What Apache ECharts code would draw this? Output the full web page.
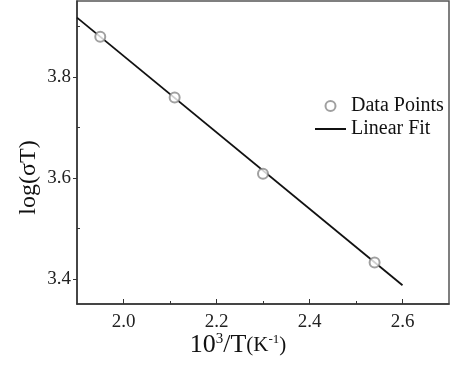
<!DOCTYPE html>
<html>
<head>
<meta charset="utf-8">
<script src="https://cdn.jsdelivr.net/npm/echarts@6/dist/echarts.min.js"></script>
<style>
  html, body { margin: 0; padding: 0; background: #fff; }
  #chart { width: 450px; height: 368px; }
</style>
</head>
<body>
<div id="chart"></div>
<script>
// measured points: 10^3/T vs log(sigma*T)
const invT = [1.95, 2.11, 2.30, 2.54];
const logSigmaT = [3.879, 3.759, 3.608, 3.432];
// linear fit end points
const fitX = [1.9, 2.6];
const fitY = [3.917, 3.387];
const xTicks = [2.0, 2.2, 2.4, 2.6];
const xMinor = [2.1, 2.3, 2.5];
const yTicks = [3.4, 3.6, 3.8];
const yMinor = [3.5, 3.7, 3.9];

const chart = echarts.init(document.getElementById('chart'));
const serif = '"Liberation Serif", "DejaVu Serif", serif';
const axisColor = '#333';

const option = {
    backgroundColor: '#fff',
    animation: false,
    grid: {
        left: 77, right: 1, top: 1, bottom: 64,
        show: true,
        borderColor: '#555',
        borderWidth: 1.5
    },
    legend: {
        left: 314,
        top: 96,
        padding: 0,
        orient: 'vertical',
        itemWidth: 31,
        itemHeight: 10,
        itemGap: 3,
        textStyle: { fontFamily: serif, fontSize: 20, color: '#111' },
        data: [
            { name: 'Data Points' },
            { name: 'Linear Fit', itemStyle: { opacity: 0 } }
        ]
    },
    xAxis: [
        {
            type: 'value',
            min: 1.9,
            max: 2.7,
            name: '10{sup|3}/T{p|(K}{sup2|-1}{p|)}',
            nameLocation: 'middle',
            nameMoveOverlap: false,
            nameGap: 28,
            nameTextStyle: {
                fontFamily: serif, fontSize: 26, color: '#111',
                padding: [0, 50, 0, 0],
                rich: {
                    sup: { fontFamily: serif, fontSize: 15, color: '#111', padding: [0, 0, 12, 0] },
                    p: { fontFamily: serif, fontSize: 21, color: '#111' },
                    sup2: { fontFamily: serif, fontSize: 13, color: '#111', padding: [0, 0, 12, 0] }
                }
            },
            axisLine: { onZero: false, lineStyle: { color: axisColor, width: 1.5 } },
            axisTick: { inside: true, length: 5, customValues: xTicks, lineStyle: { color: axisColor } },
            axisLabel: {
                fontFamily: serif, fontSize: 19, color: '#222', margin: 9,
                customValues: xTicks,
                formatter: v => v.toFixed(1)
            },
            splitLine: { show: false }
        },
        {
            type: 'value',
            position: 'bottom',
            min: 1.9,
            max: 2.7,
            axisLine: { show: false },
            axisTick: { inside: true, length: 3, customValues: xMinor, lineStyle: { color: axisColor } },
            axisLabel: { show: false },
            splitLine: { show: false }
        }
    ],
    yAxis: [
        {
            type: 'value',
            min: 3.35,
            max: 3.95,
            name: 'log(σT)',
            nameLocation: 'middle',
            nameMoveOverlap: false,
            nameGap: 36,
            nameRotate: 90,
            nameTextStyle: { fontFamily: serif, fontSize: 24, color: '#111', padding: [0, 50, 0, 0] },
            axisLine: { onZero: false, lineStyle: { color: axisColor, width: 1.5 } },
            axisTick: { length: 4, customValues: yTicks, lineStyle: { color: axisColor } },
            axisLabel: {
                fontFamily: serif, fontSize: 19, color: '#222', margin: 6,
                customValues: yTicks,
                formatter: v => v.toFixed(1)
            },
            splitLine: { show: false }
        },
        {
            type: 'value',
            position: 'left',
            min: 3.35,
            max: 3.95,
            axisLine: { show: false },
            axisTick: { inside: true, length: 3, customValues: yMinor, lineStyle: { color: axisColor } },
            axisLabel: { show: false },
            splitLine: { show: false }
        }
    ],
    series: [
        {
            name: 'Data Points',
            type: 'scatter',
            symbol: 'emptyCircle',
            symbolSize: 10,
            itemStyle: { color: '#888', borderWidth: 1.2 },
            data: invT.map((x, i) => [x, logSigmaT[i]]),
            z: 3
        },
        {
            name: 'Linear Fit',
            type: 'line',
            symbol: 'none',
            lineStyle: { color: '#111', width: 1.8 },
            itemStyle: { color: '#111' },
            data: fitX.map((x, i) => [x, fitY[i]]),
            z: 2
        }
    ]
};

chart.setOption(option);
</script>
</body>
</html>
